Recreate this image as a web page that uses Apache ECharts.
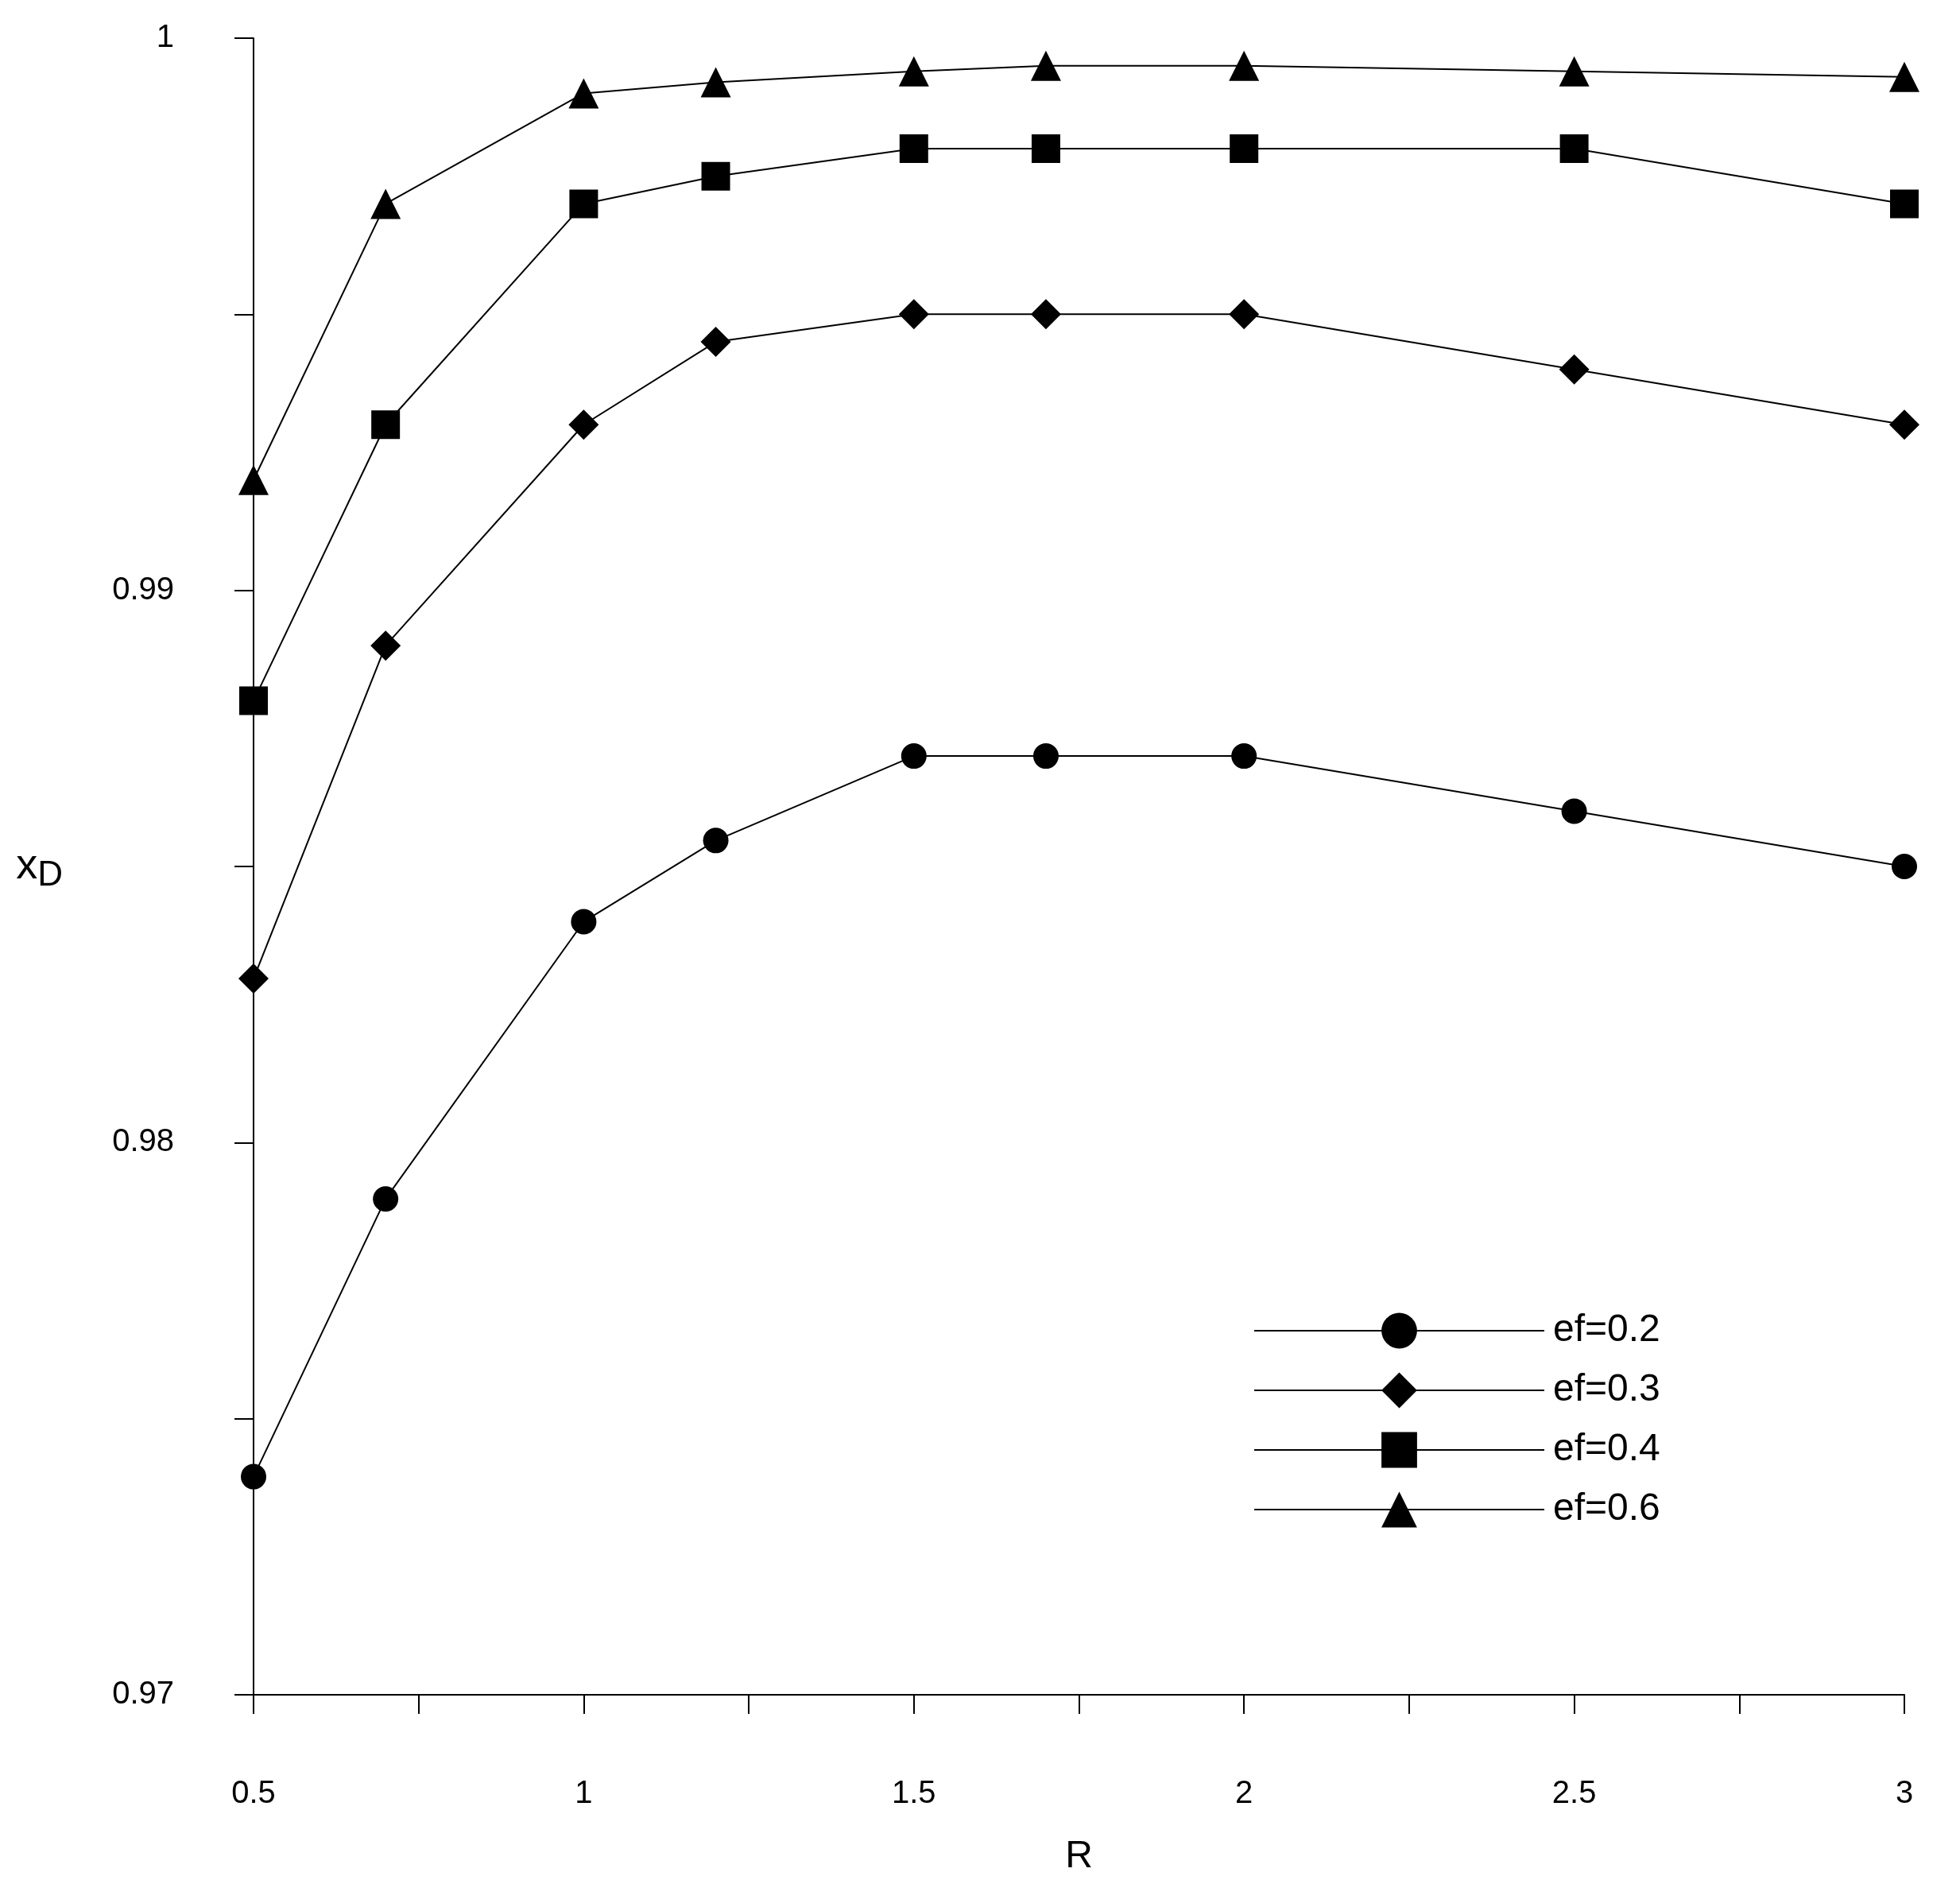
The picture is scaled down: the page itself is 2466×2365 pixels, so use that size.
<!DOCTYPE html>
<html>
<head>
<meta charset="utf-8">
<script src="https://cdn.jsdelivr.net/npm/echarts@6/dist/echarts.min.js"></script>
<style>html,body{margin:0;padding:0;background:#fff}#main{width:2466px;height:2365px}</style>
</head>
<body>
<div id="main"></div>
<script>
// reflux ratio R vs distillate purity xD
var rValues = [0.5, 0.7, 1, 1.2, 1.5, 1.7, 2, 2.5, 3];
var ef02 = [0.97395, 0.97898, 0.9840, 0.98547, 0.9870, 0.9870, 0.9870, 0.9860, 0.9850];
var ef03 = [0.98297, 0.9890, 0.9930, 0.9945, 0.9950, 0.9950, 0.9950, 0.9940, 0.9930];
var ef04 = [0.9880, 0.9930, 0.9970, 0.9975, 0.9980, 0.9980, 0.9980, 0.9980, 0.9970];
var ef06 = [0.9920, 0.9970, 0.9990, 0.9992, 0.9994, 0.9995, 0.9995, 0.9994, 0.9993];
var seriesNames = ['ef=0.2', 'ef=0.3', 'ef=0.4', 'ef=0.6'];

function pairs(ys) {
  return rValues.map(function(x, i) { return [x, ys[i]]; });
}

var chart = echarts.init(document.getElementById('main'));
var font = 'Liberation Sans, Arial, sans-serif';
var symbols = ['circle', 'diamond', 'rect', 'triangle'];
var sizes = [32, 38, 36, 38];
var all = [ef02, ef03, ef04, ef06];

chart.setOption({
  backgroundColor: '#fff',
  animation: false,
  grid: { left: 319, right: 70, top: 48, bottom: 205 },
  legend: {
    left: 1572, top: 1645, orient: 'vertical',
    itemWidth: 365, itemHeight: 56, itemGap: 27,
    textStyle: { fontFamily: font, fontSize: 48, color: '#000', padding: [0, 0, 0, 6] },
    data: seriesNames
  },
  xAxis: {
    type: 'value', min: 0.5, max: 3, interval: 0.25,
    name: 'R', nameLocation: 'middle', nameGap: 180,
    nameTextStyle: { fontFamily: font, fontSize: 48, color: '#000' },
    splitLine: { show: false },
    axisLine: { onZero: false, lineStyle: { color: '#000', width: 2 } },
    axisTick: { length: 24, lineStyle: { color: '#000', width: 2 } },
    axisLabel: {
      margin: 105, fontFamily: font, fontSize: 40, color: '#000',
      formatter: function(v) { return (Math.round(v * 100) % 50 === 0) ? String(+v.toFixed(2)) : ''; }
    }
  },
  yAxis: {
    type: 'value', min: 0.97, max: 1.0, interval: 0.005,
    name: '{a|x}{b|D}', nameLocation: 'middle', nameRotate: 0, nameGap: 240,
    nameTextStyle: {
      rich: {
        a: { fontFamily: font, fontSize: 54, color: '#000' },
        b: { fontFamily: font, fontSize: 44, color: '#000', padding: [24, 0, 0, 0] }
      }
    },
    splitLine: { show: false },
    axisLine: { show: true, lineStyle: { color: '#000', width: 2 } },
    axisTick: { length: 24, lineStyle: { color: '#000', width: 2 } },
    axisLabel: {
      margin: 100, fontFamily: font, fontSize: 40, color: '#000',
      formatter: function(v) { return (Math.round(v * 1000) % 10 === 0) ? String(+v.toFixed(2)) : ''; }
    }
  },
  series: all.map(function(ys, i) {
    return {
      name: seriesNames[i], type: 'line', data: pairs(ys),
      symbol: symbols[i], symbolSize: sizes[i],
      lineStyle: { color: '#000', width: 2 },
      itemStyle: { color: '#000' }
    };
  })
});
</script>
</body>
</html>
